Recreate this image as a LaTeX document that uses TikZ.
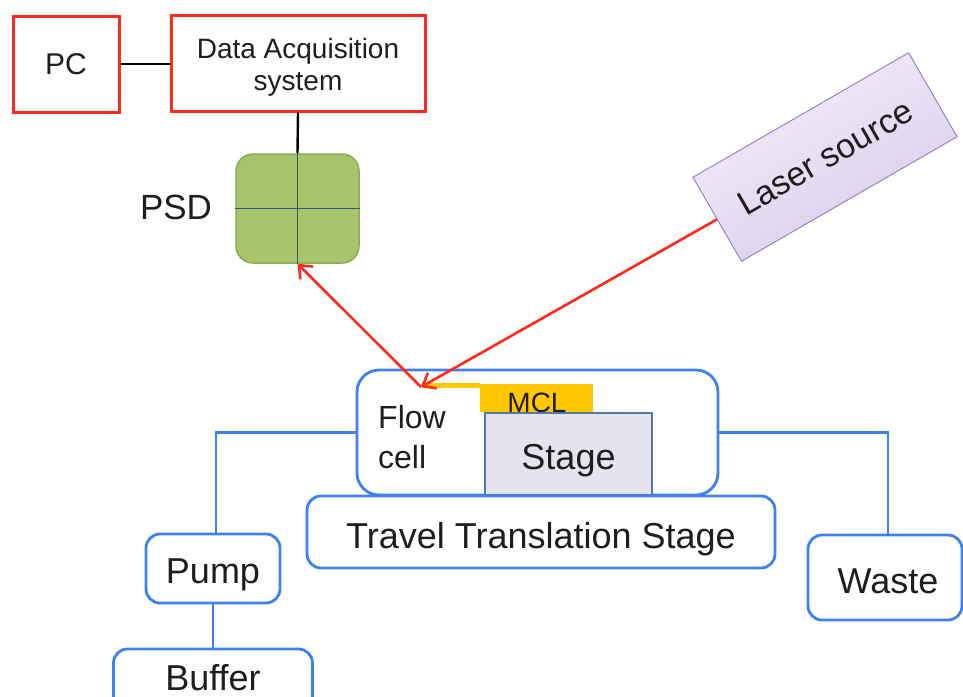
\documentclass[tikz,border=0pt]{standalone}
\usepackage{fontspec}
\setmainfont{Liberation Sans}
\usetikzlibrary{arrows.meta,calc}
\definecolor{redline}{HTML}{FF2A1C}
\definecolor{blueline}{HTML}{3F80F0}
\definecolor{psdfill}{HTML}{A8C46A}
\definecolor{psddraw}{HTML}{8DA95A}
\definecolor{psdcross}{HTML}{2F5A80}
\definecolor{laserA}{HTML}{F4F0FB}
\definecolor{laserB}{HTML}{D8CBEC}
\definecolor{laserdraw}{HTML}{9886BC}
\definecolor{mclyellow}{HTML}{FFC800}
\definecolor{stagefill}{HTML}{E7E3EE}
\definecolor{stagedraw}{HTML}{4E7AA6}
\definecolor{txt}{HTML}{1E1E1E}
\begin{document}
\begin{tikzpicture}[x=1pt,y=-1pt,
  txtstyle/.style={text=txt,inner sep=0pt},
  redbox/.style={draw=redline,line width=3pt,fill=white,txtstyle},
  bluebox/.style={draw=blueline,line width=2.8pt,fill=white,rounded corners=14pt,txtstyle},
  bigfont/.style={font=\fontsize{36}{40}\selectfont,text height=26pt,text depth=0pt},
  blackline/.style={line width=2.4pt,black},
  blueconn/.style={line width=2.8pt,blueline},
  beam/.style={line width=2.6pt,redline,-{Straight Barb[length=11pt,width=18pt,line width=2.6pt]}}
]
\useasboundingbox (0,0) rectangle (963,696);
% top boxes
\node[redbox,minimum width=106pt,minimum height=96pt,font=\fontsize{30}{34}\selectfont,text height=21.5pt,text depth=0pt] (pc) at (66,64) {PC};
\node[redbox,minimum width=254pt,minimum height=96pt] (daq) at (298,63) {};
\node[txtstyle,align=center,font=\fontsize{28}{32}\selectfont] (daqtext) at (298,67) {Data Acquisition\\system};
% PSD
\node[draw=psddraw,fill=psdfill,line width=1.5pt,rounded corners=17pt,minimum width=123pt,minimum height=109pt,inner sep=0pt] (psd) at (297.5,208.5) {};
\draw[psdcross,line width=1.2pt] (psd.west) -- (psd.east);
\draw[psdcross,line width=1.2pt] (psd.north) -- (psd.south);
\node[txtstyle,font=\fontsize{35}{40}\selectfont,text height=25pt,text depth=0pt] (psdlabel) at (176,207) {PSD};
% laser
\node[draw=laserdraw,line width=1pt,top color=laserA,bottom color=laserB,shading angle=30,rotate=30,minimum width=249pt,minimum height=97pt,txtstyle,font=\fontsize{34}{38}\selectfont,text height=24.5pt,text depth=0pt] (laser) at (825,157) {Laser source};
% flow cell
\node[bluebox,rounded corners=22pt,minimum width=361pt,minimum height=125pt] (fc) at (537.5,432.5) {};
\fill[mclyellow] (422,383) rectangle (480,388);
\fill[mclyellow] (480,384) rectangle (593,412);
\node[txtstyle,font=\fontsize{28}{32}\selectfont,text height=20pt,text depth=0pt] (mcl) at (537,402) {MCL};
\node[draw=stagedraw,fill=stagefill,line width=1.8pt,minimum width=167pt,minimum height=82pt,txtstyle,bigfont] (stage) at (568.5,454) {};
\node[txtstyle,bigfont] (stagetext) at (568.5,456.5) {Stage};
\node[txtstyle,align=left,anchor=west,font=\fontsize{32}{40}\selectfont] (fctext) at (378,437) {Flow\\cell};
% other boxes
\node[bluebox,minimum width=468pt,minimum height=72pt] (tts) at (541,532) {};
\node[txtstyle,bigfont] (ttstext) at (541,535) {Travel Translation Stage};
\node[bluebox,minimum width=134pt,minimum height=69pt] (pump) at (213,568.5) {};
\node[txtstyle,bigfont] (pumptext) at (213,570) {Pump};
\node[bluebox,minimum width=199pt,minimum height=80pt] (buffer) at (213,689) {};
\node[txtstyle,bigfont] (buffertext) at (213,677) {Buffer};
\node[bluebox,minimum width=154pt,minimum height=85pt] (waste) at (885,577.5) {};
\node[txtstyle,bigfont] (wastetext) at (888,580) {Waste};
% connectors
\draw[blackline] (pc.east) -- (daq.west |- pc.east);
\draw[blackline] (daq.south) -- (psd.north);
\draw[blueconn] (fc.west) -| ([xshift=3pt]pump.north);
\draw[blueconn] (fc.east) -| ([xshift=3pt]waste.north);
\draw[blueconn] (pump.south) -- (buffer.north);
% beams
\coordinate (refl) at (421,387);
\draw[beam] (laser.west) -- (refl);
\draw[beam] (refl) -- (psd.south);
\end{tikzpicture}
\end{document}
